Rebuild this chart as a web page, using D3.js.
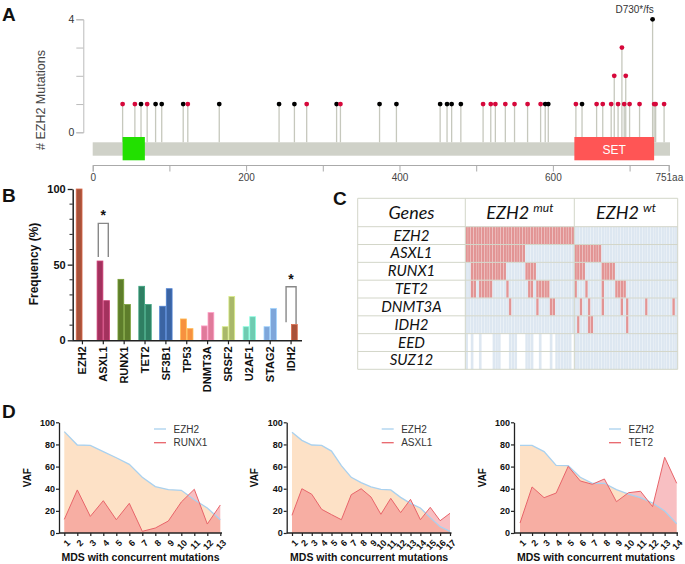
<!DOCTYPE html>
<html><head><meta charset="utf-8">
<script src="https://cdn.jsdelivr.net/npm/d3@7"></script>
<style>body{margin:0;background:#fff}svg{display:block}</style>
</head><body>
<svg id="c" width="685" height="564"></svg>
<script>
// ---------- Panel A: EZH2 lollipop ----------
const proteinLength = 751;
const mutPos   = [39,55,63,71,82,90,118,124,165,243,263,279,318,323,374,396,453,462,468,480,509,519,525,538,550,567,584,590,594,630,638,657,665,676,680,685,690,693,695,700,713,730,732,734,745];
const mutCount = [1,1,1,1,1,1,1,1,1,1,1,1,1,1,1,1,1,1,1,1,1,1,1,1,1,1,1,1,1,1,1,1,1,1,2,1,3,1,2,1,1,4,1,1,1];
const mutType  = ["m","m","t","m","t","t","t","m","t","t","t","m","t","m","t","t","t","t","t","t","m","m","m","m","m","m","m","t","t","m","t","m","m","m","m","m","m","m","m","m","m","t","m","m","m"];
const domainNames = ["", "SET"];
const domainStart = [39, 628];
const domainEnd   = [68, 732];
const axisATicks = [0,100,200,300,400,500,600,700,751];
const axisALabels = {0:"0",200:"200",400:"400",600:"600",751:"751aa"};
const hotspotLabel = "D730*/fs";

// ---------- Panel B: co-mutation frequency ----------
const genesB = ["EZH2","ASXL1","RUNX1","TET2","SF3B1","TP53","DNMT3A","SRSF2","U2AF1","STAG2","IDH2"];
const freqMut = [100,52.4,40.3,35.7,22.5,14.1,9.5,9,9,9,0];
const freqWt  = [0,26.2,23.6,23.6,34.1,7.7,18.3,28.9,15.6,21.1,10.4];
const colorsB = ["#a9523a","#a3325e","#5e7d2b","#2f7f63","#3b64a3","#f7913f","#e07a9a","#a9b86a","#6fcbb1","#7ea6da","#a9523a"];
const sigGenes = ["ASXL1","IDH2"];
const sigTop = [77.3,35.4];
const sigLegBottom = [[55,55],[11.9,10.8]];

// ---------- Panel C: mutation matrix ----------
const genesC = ["EZH2","ASXL1","RUNX1","TET2","DNMT3A","IDH2","EED","SUZ12"];
const nMutPatients = 40, nWtPatients = 38;
const mutGroupHits = {EZH2:"0-39", ASXL1:"0-21", RUNX1:"2-14,22-25", TET2:"2-3,5-9,15,23-24,26-30", DNMT3A:"16,26,31-32", IDH2:"", EED:"", SUZ12:""};
const wtGroupHits  = {EZH2:"", ASXL1:"0-9", RUNX1:"0-3,10-14", TET2:"0,4,10,15-18", DNMT3A:"2,5,10,17,19,26,36", IDH2:"1,5-6,19", EED:"", SUZ12:""};
const mutGroupTestedPRC2 = "0,2,5,10-12,16-18,22-24,27,31,33-38";

// ---------- Panel D: VAF ----------
const dGenes = ["RUNX1","ASXL1","TET2"];
const vafEzh2 = [
  [91.6,79.5,79.2,73.5,68,62,50.3,41.9,39.2,38.6,30.1,22.6,12],
  [91,83.7,79.5,79.2,74,60.8,50.3,45.5,41.6,39.5,38.9,32.2,26.8,22.6,13.9,5.7,1.5],
  [79.2,79.2,73.5,61.1,60.8,50.3,44.9,44.9,39.2,35.2,31.9,27.1,19.9,8.4]
];
const vafPartner = [
  [12.3,38.9,15,29.2,12,26.8,1.5,4.5,10.8,28,39.5,8.1,25.3],
  [16,40,35,21.4,16.6,12,34.6,40,32.5,16.9,31.3,18.4,30.4,12,23.2,11.1,17.8],
  [9,41.6,31.9,36.1,60.2,47,44,48.8,28.3,36.4,37.7,23.8,68.4,44.9]
];
const vafTicks = [0,20,40,60,80,100];

// =====================================================
const svg = d3.select("#c");
const SANS = "'Liberation Sans', Arial, sans-serif";
function parseIdx(s){ const out=[]; if(!s) return out; s.split(",").forEach(p=>{const [a,b]=p.split("-").map(Number); for(let i=a;i<=(b===undefined?a:b);i++) out.push(i);}); return out; }
function panelLetter(t,x,y){ svg.append("text").attr("x",x).attr("y",y).text(t).attr("font-family",SANS).attr("font-weight","bold").attr("font-size",19).attr("fill","#111"); }

// ---------- A ----------
(function(){
  const g = svg.append("g");
  const x = d3.scaleLinear([0, proteinLength],[92.7,668.7]);
  const y = d3.scaleLinear([0,4],[132.3,19.3]);
  const barTop = 142.3, barBot = 155.7;
  const ya = g.append("g").attr("transform","translate(83.3,0)")
    .call(d3.axisLeft(y).tickValues([0,1,2,3,4]).tickSize(7).tickFormat(d=> (d===0||d===4)? d : ""));
  ya.select(".domain").attr("stroke","#bbb");
  ya.selectAll(".tick line").attr("stroke","#bbb");
  ya.selectAll("text").attr("font-family",SANS).attr("font-size",10.5).attr("fill","#333").attr("x",-9);
  g.append("text").attr("transform","translate(45,100) rotate(-90)").attr("text-anchor","middle")
    .attr("font-family",SANS).attr("font-size",12.5).attr("fill","#444").text("# EZH2 Mutations");
  g.append("rect").attr("x",x(0)).attr("y",barTop).attr("width",670-x(0)).attr("height",barBot-barTop).attr("fill","#cfd1c8");
  const data = mutPos.map((p,i)=>({p, c:mutCount[i], t:mutType[i]}));
  g.selectAll("line.stem").data(data).join("line").attr("class","stem")
    .attr("x1",d=>x(d.p)).attr("x2",d=>x(d.p)).attr("y1",barTop).attr("y2",d=>y(d.c))
    .attr("stroke","#c6c8bd").attr("stroke-width",1.3);
  const dom = domainStart.map((s,i)=>({s,e:domainEnd[i],n:domainNames[i]}));
  g.selectAll("rect.dom").data(dom).join("rect").attr("class","dom")
    .attr("x",d=>x(d.s)).attr("width",d=>x(d.e)-x(d.s)).attr("y",137).attr("height",23.3)
    .attr("fill",(d,i)=> i===0? "#22e000":"#ff5555");
  g.selectAll("text.dom").data(dom).join("text").attr("class","dom")
    .attr("x",d=>(x(d.s)+x(d.e))/2).attr("y",153.5).attr("text-anchor","middle")
    .attr("font-family",SANS).attr("font-size",12).attr("fill","#fff").text(d=>d.n);
  g.selectAll("circle").data(data).join("circle")
    .attr("cx",d=>x(d.p)).attr("cy",d=>y(d.c)).attr("r",2.4)
    .attr("fill",d=> d.t==="t" ? "#000" : "#d6083b");
  const hs = data.find(d=>d.c===4);
  g.append("text").attr("x",x(hs.p)-18).attr("y",12.5).attr("text-anchor","middle")
    .attr("font-family",SANS).attr("font-size",10).attr("fill","#333").text(hotspotLabel);
  const xa = g.append("g").attr("transform","translate(0,165)")
    .call(d3.axisBottom(x).tickValues(axisATicks).tickSize(6.5).tickFormat(d=>axisALabels[d]||""));
  xa.select(".domain").attr("stroke","#aaa");
  xa.selectAll(".tick line").attr("stroke","#aaa");
  xa.selectAll("text").attr("font-family",SANS).attr("font-size",10).attr("fill","#444").attr("y",9);
  xa.selectAll(".tick").filter(d=>d===751).select("text").attr("text-anchor","end").attr("x",14);
  panelLetter("A",2,21);
})();

// ---------- B ----------
(function(){
  const g = svg.append("g");
  const x = d3.scaleBand(genesB,[72,301.5]);
  const y = d3.scaleLinear([0,100],[340.3,189]);
  const bw = 6.6;
  genesB.forEach((gname,i)=>{
    const cx = x(gname)+x.bandwidth()/2;
    const col = colorsB[i];
    const edge = d3.color(col).brighter(0.7);
    [[freqMut[i],cx-bw],[freqWt[i],cx]].forEach(([v,x0])=>{
      if(v<=0) return;
      g.append("rect").attr("x",x0+0.4).attr("y",y(v)).attr("width",bw-0.8).attr("height",y(0)-y(v))
        .attr("fill",col).attr("stroke",edge).attr("stroke-width",0.8);
    });
  });
  const ya = g.append("g").attr("transform","translate(72.7,0)")
    .call(d3.axisLeft(y).tickValues([0,50,100]).tickSize(5).tickSizeOuter(0));
  ya.select(".domain").attr("stroke","#222").attr("stroke-width",1.5);
  ya.selectAll(".tick line").attr("stroke","#222").attr("stroke-width",1.3);
  ya.selectAll("text").attr("font-family",SANS).attr("font-weight","bold").attr("font-size",11).attr("fill","#111").attr("x",-7);
  g.append("g").selectAll("line").data(d3.range(10,100,10).filter(v=>v!==50)).join("line")
    .attr("x1",69.5).attr("x2",72.7).attr("y1",d=>y(d)).attr("y2",d=>y(d)).attr("stroke","#222").attr("stroke-width",1);
  const xa = g.append("g").attr("transform","translate(0,340.3)")
    .call(d3.axisBottom(x).tickSize(4).tickSizeOuter(0));
  xa.select(".domain").attr("stroke","#222").attr("stroke-width",1.5);
  xa.selectAll(".tick line").attr("stroke","#222").attr("stroke-width",1.2);
  xa.selectAll("text").attr("font-family",SANS).attr("font-weight","bold").attr("font-size",11).attr("fill","#111")
    .attr("transform","rotate(-90)").attr("text-anchor","end").attr("x",-6).attr("y",0).attr("dy","0.35em");
  g.append("text").attr("transform","translate(38,264) rotate(-90)").attr("text-anchor","middle")
    .attr("font-family",SANS).attr("font-weight","bold").attr("font-size",12).attr("fill","#111").text("Frequency (%)");
  sigGenes.forEach((gn,i)=>{
    const cx = x(gn)+x.bandwidth()/2;
    const l = cx-5, r = cx+5, t = y(sigTop[i]);
    g.append("path").attr("d",`M${l},${y(sigLegBottom[i][0])}V${t}H${r}V${y(sigLegBottom[i][1])}`)
      .attr("fill","none").attr("stroke","#888").attr("stroke-width",1.4);
    g.append("text").attr("x",(l+r)/2).attr("y",t-3).attr("text-anchor","middle")
      .attr("font-family",SANS).attr("font-weight","bold").attr("font-size",14).attr("fill","#111").text("*");
  });
  panelLetter("B",2,202);
})();

// ---------- C ----------
(function(){
  const g = svg.append("g");
  const L=357.7, R=677.7, T=198.3, H=226.7, B=369.3, c1=465.3, c2=574.3;
  const yC = d3.scaleBand(genesC,[H,B]);
  const xM = d3.scaleBand(d3.range(nMutPatients),[c1,c2]);
  const xW = d3.scaleBand(d3.range(nWtPatients),[c2,R]);
  const tested = new Set(parseIdx(mutGroupTestedPRC2));
  const cells = [];
  genesC.forEach(gn=>{
    const mh = new Set(parseIdx(mutGroupHits[gn]));
    const wh = new Set(parseIdx(wtGroupHits[gn]));
    const prc2 = (gn==="EED"||gn==="SUZ12");
    d3.range(nMutPatients).forEach(i=>{
      const st = mh.has(i)?2:(prc2 && !tested.has(i)?0:1);
      cells.push({x:xM(i),w:xM.bandwidth(),y:yC(gn),h:yC.bandwidth(),st});
    });
    d3.range(nWtPatients).forEach(i=>{
      cells.push({x:xW(i),w:xW.bandwidth(),y:yC(gn),h:yC.bandwidth(),st:wh.has(i)?2:1});
    });
  });
  g.selectAll("rect.cell").data(cells.filter(d=>d.st>0)).join("rect").attr("class","cell")
    .attr("x",d=>d.x).attr("y",d=>d.y).attr("width",d=>d.w).attr("height",d=>d.h)
    .attr("fill",d=>d.st===2?"#e29494":"#dde7f1")
    .attr("stroke","rgba(255,255,255,0.35)").attr("stroke-width",0.5);
  const lc = "#d3d6c9";
  g.selectAll("line.h").data([T,H,...genesC.slice(1).map(d=>yC(d)),B]).join("line").attr("class","h")
    .attr("x1",L).attr("x2",R).attr("y1",d=>d).attr("y2",d=>d).attr("stroke",lc).attr("stroke-width",1);
  g.selectAll("line.v").data([L,c1,c2,R]).join("line").attr("class","v")
    .attr("x1",d=>d).attr("x2",d=>d).attr("y1",T).attr("y2",B).attr("stroke",lc).attr("stroke-width",1);
  const CF = "Lato, 'Open Sans', sans-serif";
  g.append("text").attr("x",(L+c1)/2).attr("y",219).attr("text-anchor","middle")
    .attr("font-family",CF).attr("font-style","italic").attr("font-size",18).attr("fill","#111").text("Genes");
  [["mut",(c1+c2)/2],["wt",(c2+R)/2]].forEach(([sup,cx])=>{
    const t = g.append("text").attr("x",cx).attr("y",219).attr("text-anchor","middle")
      .attr("font-family",CF).attr("font-style","italic").attr("font-size",18).attr("fill","#111");
    t.append("tspan").text("EZH2 ");
    t.append("tspan").attr("font-size",12).attr("dy",-7).text(sup);
  });
  g.selectAll("text.gene").data(genesC).join("text").attr("class","gene")
    .attr("x",(L+c1)/2).attr("y",d=>yC(d)+yC.bandwidth()/2+5).attr("text-anchor","middle")
    .attr("font-family",CF).attr("font-style","italic").attr("font-size",15).attr("fill","#111").text(d=>d);
  panelLetter("C",333,205);
})();

// ---------- D ----------
(function(){
  const layouts = [
    {ax:59, x0:64.3, x1:220.3, xe:222},
    {ax:286.7, x0:292, x1:450, xe:451.5},
    {ax:514, x0:520, x1:676.7, xe:678}
  ];
  const y = d3.scaleLinear([0,100],[533,422.3]);
  dGenes.forEach((gn,k)=>{
    const lay = layouts[k];
    const g = svg.append("g");
    const n = vafEzh2[k].length;
    const cats = d3.range(1,n+1);
    const x = d3.scalePoint(cats,[lay.x0,lay.x1]);
    const e = vafEzh2[k].map((v,i)=>({c:cats[i],v}));
    const p = vafPartner[k].map((v,i)=>({c:cats[i],v}));
    const area = d3.area().x(d=>x(d.c)).y0(y(0)).y1(d=>y(d.v));
    const line = d3.line().x(d=>x(d.c)).y(d=>y(d.v));
    g.append("path").attr("d",area(e)).attr("fill","#fde1c6");
    g.append("path").attr("d",area(p)).attr("fill","rgba(240,112,120,0.45)");
    g.append("path").attr("d",line(e)).attr("fill","none").attr("stroke","#a9d1ef").attr("stroke-width",1.3);
    g.append("path").attr("d",line(p)).attr("fill","none").attr("stroke","#e8646a").attr("stroke-width",1);
    const ya = g.append("g").attr("transform",`translate(${lay.ax},0)`)
      .call(d3.axisLeft(y).tickValues(vafTicks).tickSize(3).tickSizeOuter(0));
    ya.select(".domain").attr("stroke","#222").attr("stroke-width",1.3);
    ya.selectAll(".tick line").attr("stroke","#222").attr("stroke-width",1.2);
    ya.selectAll("text").attr("font-family",SANS).attr("font-weight","bold").attr("font-size",9).attr("fill","#111").attr("x",-4);
    g.append("line").attr("x1",lay.ax).attr("x2",lay.xe).attr("y1",533).attr("y2",533).attr("stroke","#222").attr("stroke-width",1.3);
    const xa = g.append("g").attr("transform","translate(0,533)")
      .call(d3.axisBottom(x).tickSize(3).tickSizeOuter(0));
    xa.select(".domain").remove();
    xa.selectAll(".tick line").attr("stroke","#222").attr("stroke-width",1.2);
    xa.selectAll("text").attr("font-family",SANS).attr("font-weight","bold").attr("font-size",9).attr("fill","#111")
      .attr("text-anchor","end").attr("transform","translate(1.5,6) rotate(-45)").attr("x",0).attr("y",0).attr("dy","0.7em");
    g.append("text").attr("transform",`translate(${lay.ax-28.5},${(422.3+533)/2}) rotate(-90)`).attr("text-anchor","middle")
      .attr("font-family",SANS).attr("font-weight","bold").attr("font-size",10).attr("fill","#111").text("VAF");
    g.append("text").attr("x",(lay.ax+lay.xe)/2).attr("y",561).attr("text-anchor","middle")
      .attr("font-family",SANS).attr("font-weight","bold").attr("font-size",10.5).attr("fill","#111").text("MDS with concurrent mutations");
    [["EZH2","#a9d1ef",429],[gn,"#e8646a",442.7]].forEach(([t,c,yy])=>{
      g.append("line").attr("x1",lay.ax+95).attr("x2",lay.ax+107).attr("y1",yy).attr("y2",yy).attr("stroke",c).attr("stroke-width",1.3);
      g.append("text").attr("x",lay.ax+114.5).attr("y",yy+3.5).attr("font-family",SANS).attr("font-size",10).attr("fill","#333").text(t);
    });
  });
  panelLetter("D",2,418);
})();
</script>
</body></html>
